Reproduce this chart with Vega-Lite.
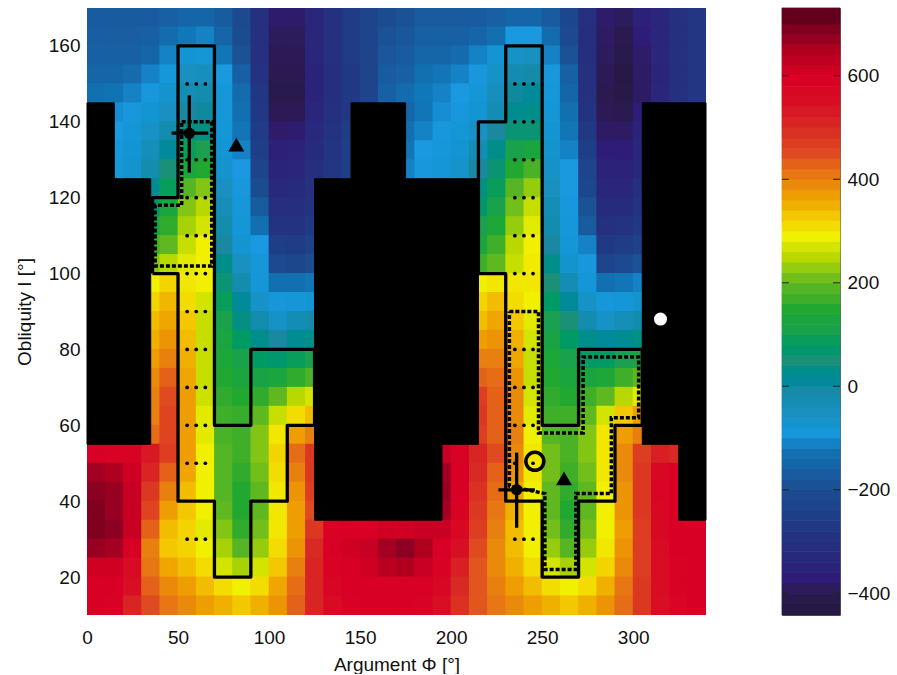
{"$schema":"https://vega.github.io/schema/vega-lite/v6.json","padding":{"left":15,"top":7,"right":0,"bottom":0},"background":"white","spacing":74,"config":{"font":"Liberation Sans","view":{"stroke":null}},
"datasets":{"cells":[
{"x":5,"y":167.5,"v":-170},{"x":15,"y":167.5,"v":-170},{"x":25,"y":167.5,"v":-170},{"x":35,"y":167.5,"v":-170},{"x":45,"y":167.5,"v":-160},{"x":55,"y":167.5,"v":-150},{"x":65,"y":167.5,"v":-150},{"x":75,"y":167.5,"v":-170},{"x":85,"y":167.5,"v":-210},{"x":95,"y":167.5,"v":-300},{"x":105,"y":167.5,"v":-380},{"x":115,"y":167.5,"v":-380},{"x":125,"y":167.5,"v":-340},{"x":135,"y":167.5,"v":-300},{"x":145,"y":167.5,"v":-260},{"x":155,"y":167.5,"v":-230},{"x":165,"y":167.5,"v":-200},{"x":175,"y":167.5,"v":-190},{"x":185,"y":167.5,"v":-170},{"x":195,"y":167.5,"v":-170},{"x":205,"y":167.5,"v":-170},{"x":215,"y":167.5,"v":-170},{"x":225,"y":167.5,"v":-160},{"x":235,"y":167.5,"v":-150},{"x":245,"y":167.5,"v":-150},{"x":255,"y":167.5,"v":-170},{"x":265,"y":167.5,"v":-220},{"x":275,"y":167.5,"v":-300},{"x":285,"y":167.5,"v":-380},{"x":295,"y":167.5,"v":-390},{"x":305,"y":167.5,"v":-360},{"x":315,"y":167.5,"v":-340},{"x":325,"y":167.5,"v":-300},{"x":335,"y":167.5,"v":-280},
{"x":5,"y":162.5,"v":-165},{"x":15,"y":162.5,"v":-165},{"x":25,"y":162.5,"v":-165},{"x":35,"y":162.5,"v":-160},{"x":45,"y":162.5,"v":-140},{"x":55,"y":162.5,"v":-115},{"x":65,"y":162.5,"v":-110},{"x":75,"y":162.5,"v":-150},{"x":85,"y":162.5,"v":-200},{"x":95,"y":162.5,"v":-300},{"x":105,"y":162.5,"v":-390},{"x":115,"y":162.5,"v":-390},{"x":125,"y":162.5,"v":-340},{"x":135,"y":162.5,"v":-300},{"x":145,"y":162.5,"v":-260},{"x":155,"y":162.5,"v":-230},{"x":165,"y":162.5,"v":-190},{"x":175,"y":162.5,"v":-180},{"x":185,"y":162.5,"v":-160},{"x":195,"y":162.5,"v":-160},{"x":205,"y":162.5,"v":-160},{"x":215,"y":162.5,"v":-150},{"x":225,"y":162.5,"v":-130},{"x":235,"y":162.5,"v":-100},{"x":245,"y":162.5,"v":-100},{"x":255,"y":162.5,"v":-140},{"x":265,"y":162.5,"v":-210},{"x":275,"y":162.5,"v":-310},{"x":285,"y":162.5,"v":-385},{"x":295,"y":162.5,"v":-400},{"x":305,"y":162.5,"v":-370},{"x":315,"y":162.5,"v":-340},{"x":325,"y":162.5,"v":-300},{"x":335,"y":162.5,"v":-280},
{"x":5,"y":157.5,"v":-160},{"x":15,"y":157.5,"v":-160},{"x":25,"y":157.5,"v":-160},{"x":35,"y":157.5,"v":-150},{"x":45,"y":157.5,"v":-110},{"x":55,"y":157.5,"v":-80},{"x":65,"y":157.5,"v":-85},{"x":75,"y":157.5,"v":-120},{"x":85,"y":157.5,"v":-190},{"x":95,"y":157.5,"v":-300},{"x":105,"y":157.5,"v":-395},{"x":115,"y":157.5,"v":-395},{"x":125,"y":157.5,"v":-340},{"x":135,"y":157.5,"v":-300},{"x":145,"y":157.5,"v":-260},{"x":155,"y":157.5,"v":-230},{"x":165,"y":157.5,"v":-180},{"x":175,"y":157.5,"v":-170},{"x":185,"y":157.5,"v":-150},{"x":195,"y":157.5,"v":-150},{"x":205,"y":157.5,"v":-140},{"x":215,"y":157.5,"v":-110},{"x":225,"y":157.5,"v":-80},{"x":235,"y":157.5,"v":-60},{"x":245,"y":157.5,"v":-50},{"x":255,"y":157.5,"v":-110},{"x":265,"y":157.5,"v":-190},{"x":275,"y":157.5,"v":-310},{"x":285,"y":157.5,"v":-390},{"x":295,"y":157.5,"v":-410},{"x":305,"y":157.5,"v":-380},{"x":315,"y":157.5,"v":-340},{"x":325,"y":157.5,"v":-300},{"x":335,"y":157.5,"v":-280},
{"x":5,"y":152.5,"v":-150},{"x":15,"y":152.5,"v":-150},{"x":25,"y":152.5,"v":-140},{"x":35,"y":152.5,"v":-110},{"x":45,"y":152.5,"v":-90},{"x":55,"y":152.5,"v":-50},{"x":65,"y":152.5,"v":-45},{"x":75,"y":152.5,"v":-100},{"x":85,"y":152.5,"v":-160},{"x":95,"y":152.5,"v":-290},{"x":105,"y":152.5,"v":-400},{"x":115,"y":152.5,"v":-400},{"x":125,"y":152.5,"v":-350},{"x":135,"y":152.5,"v":-310},{"x":145,"y":152.5,"v":-270},{"x":155,"y":152.5,"v":-230},{"x":165,"y":152.5,"v":-170},{"x":175,"y":152.5,"v":-160},{"x":185,"y":152.5,"v":-130},{"x":195,"y":152.5,"v":-120},{"x":205,"y":152.5,"v":-110},{"x":215,"y":152.5,"v":-95},{"x":225,"y":152.5,"v":-60},{"x":235,"y":152.5,"v":-25},{"x":245,"y":152.5,"v":-15},{"x":255,"y":152.5,"v":-95},{"x":265,"y":152.5,"v":-160},{"x":275,"y":152.5,"v":-300},{"x":285,"y":152.5,"v":-395},{"x":295,"y":152.5,"v":-425},{"x":305,"y":152.5,"v":-385},{"x":315,"y":152.5,"v":-345},{"x":325,"y":152.5,"v":-300},{"x":335,"y":152.5,"v":-280},
{"x":5,"y":147.5,"v":-130},{"x":15,"y":147.5,"v":-125},{"x":25,"y":147.5,"v":-110},{"x":35,"y":147.5,"v":-95},{"x":45,"y":147.5,"v":-70},{"x":55,"y":147.5,"v":-30},{"x":65,"y":147.5,"v":-20},{"x":75,"y":147.5,"v":-90},{"x":85,"y":147.5,"v":-140},{"x":95,"y":147.5,"v":-280},{"x":105,"y":147.5,"v":-405},{"x":115,"y":147.5,"v":-405},{"x":125,"y":147.5,"v":-350},{"x":135,"y":147.5,"v":-310},{"x":145,"y":147.5,"v":-270},{"x":155,"y":147.5,"v":-230},{"x":165,"y":147.5,"v":-160},{"x":175,"y":147.5,"v":-140},{"x":185,"y":147.5,"v":-115},{"x":195,"y":147.5,"v":-110},{"x":205,"y":147.5,"v":-100},{"x":215,"y":147.5,"v":-85},{"x":225,"y":147.5,"v":-45},{"x":235,"y":147.5,"v":5},{"x":245,"y":147.5,"v":10},{"x":255,"y":147.5,"v":-90},{"x":265,"y":147.5,"v":-150},{"x":275,"y":147.5,"v":-300},{"x":285,"y":147.5,"v":-400},{"x":295,"y":147.5,"v":-420},{"x":305,"y":147.5,"v":-385},{"x":315,"y":147.5,"v":-340},{"x":325,"y":147.5,"v":-300},{"x":335,"y":147.5,"v":-280},
{"x":15,"y":142.5,"v":-105},{"x":25,"y":142.5,"v":-95},{"x":35,"y":142.5,"v":-80},{"x":45,"y":142.5,"v":-50},{"x":55,"y":142.5,"v":0},{"x":65,"y":142.5,"v":5},{"x":75,"y":142.5,"v":-90},{"x":85,"y":142.5,"v":-130},{"x":95,"y":142.5,"v":-270},{"x":105,"y":142.5,"v":-395},{"x":115,"y":142.5,"v":-395},{"x":125,"y":142.5,"v":-340},{"x":135,"y":142.5,"v":-300},{"x":145,"y":142.5,"v":-270},{"x":175,"y":142.5,"v":-150},{"x":185,"y":142.5,"v":-120},{"x":195,"y":142.5,"v":-105},{"x":205,"y":142.5,"v":-95},{"x":215,"y":142.5,"v":-80},{"x":225,"y":142.5,"v":-30},{"x":235,"y":142.5,"v":25},{"x":245,"y":142.5,"v":30},{"x":255,"y":142.5,"v":-85},{"x":265,"y":142.5,"v":-130},{"x":275,"y":142.5,"v":-290},{"x":285,"y":142.5,"v":-395},{"x":295,"y":142.5,"v":-400},{"x":305,"y":142.5,"v":-370},
{"x":15,"y":137.5,"v":-100},{"x":25,"y":137.5,"v":-85},{"x":35,"y":137.5,"v":-60},{"x":45,"y":137.5,"v":-20},{"x":55,"y":137.5,"v":40},{"x":65,"y":137.5,"v":40},{"x":75,"y":137.5,"v":-85},{"x":85,"y":137.5,"v":-120},{"x":95,"y":137.5,"v":-260},{"x":105,"y":137.5,"v":-380},{"x":115,"y":137.5,"v":-375},{"x":125,"y":137.5,"v":-330},{"x":135,"y":137.5,"v":-290},{"x":145,"y":137.5,"v":-260},{"x":175,"y":137.5,"v":-130},{"x":185,"y":137.5,"v":-110},{"x":195,"y":137.5,"v":-95},{"x":205,"y":137.5,"v":-85},{"x":215,"y":137.5,"v":-60},{"x":225,"y":137.5,"v":0},{"x":235,"y":137.5,"v":60},{"x":245,"y":137.5,"v":60},{"x":255,"y":137.5,"v":-80},{"x":265,"y":137.5,"v":-120},{"x":275,"y":137.5,"v":-270},{"x":285,"y":137.5,"v":-385},{"x":295,"y":137.5,"v":-385},{"x":305,"y":137.5,"v":-350},
{"x":15,"y":132.5,"v":-95},{"x":25,"y":132.5,"v":-80},{"x":35,"y":132.5,"v":-40},{"x":45,"y":132.5,"v":10},{"x":55,"y":132.5,"v":90},{"x":65,"y":132.5,"v":100},{"x":75,"y":132.5,"v":-80},{"x":85,"y":132.5,"v":-110},{"x":95,"y":132.5,"v":-250},{"x":105,"y":132.5,"v":-360},{"x":115,"y":132.5,"v":-355},{"x":125,"y":132.5,"v":-320},{"x":135,"y":132.5,"v":-285},{"x":145,"y":132.5,"v":-255},{"x":175,"y":132.5,"v":-120},{"x":185,"y":132.5,"v":-100},{"x":195,"y":132.5,"v":-90},{"x":205,"y":132.5,"v":-75},{"x":215,"y":132.5,"v":-30},{"x":225,"y":132.5,"v":30},{"x":235,"y":132.5,"v":110},{"x":245,"y":132.5,"v":130},{"x":255,"y":132.5,"v":-70},{"x":265,"y":132.5,"v":-110},{"x":275,"y":132.5,"v":-250},{"x":285,"y":132.5,"v":-370},{"x":295,"y":132.5,"v":-370},{"x":305,"y":132.5,"v":-340},
{"x":15,"y":127.5,"v":-90},{"x":25,"y":127.5,"v":-70},{"x":35,"y":127.5,"v":-20},{"x":45,"y":127.5,"v":50},{"x":55,"y":127.5,"v":130},{"x":65,"y":127.5,"v":150},{"x":75,"y":127.5,"v":-70},{"x":85,"y":127.5,"v":-100},{"x":95,"y":127.5,"v":-230},{"x":105,"y":127.5,"v":-345},{"x":115,"y":127.5,"v":-340},{"x":125,"y":127.5,"v":-310},{"x":135,"y":127.5,"v":-280},{"x":145,"y":127.5,"v":-250},{"x":175,"y":127.5,"v":-110},{"x":185,"y":127.5,"v":-95},{"x":195,"y":127.5,"v":-85},{"x":205,"y":127.5,"v":-65},{"x":215,"y":127.5,"v":0},{"x":225,"y":127.5,"v":60},{"x":235,"y":127.5,"v":150},{"x":245,"y":127.5,"v":180},{"x":255,"y":127.5,"v":-60},{"x":265,"y":127.5,"v":-100},{"x":275,"y":127.5,"v":-230},{"x":285,"y":127.5,"v":-355},{"x":295,"y":127.5,"v":-355},{"x":305,"y":127.5,"v":-330},
{"x":35,"y":122.5,"v":20},{"x":45,"y":122.5,"v":90},{"x":55,"y":122.5,"v":190},{"x":65,"y":122.5,"v":220},{"x":75,"y":122.5,"v":-50},{"x":85,"y":122.5,"v":-95},{"x":95,"y":122.5,"v":-200},{"x":105,"y":122.5,"v":-330},{"x":115,"y":122.5,"v":-325},{"x":125,"y":122.5,"v":-300},{"x":215,"y":122.5,"v":40},{"x":225,"y":122.5,"v":90},{"x":235,"y":122.5,"v":190},{"x":245,"y":122.5,"v":230},{"x":255,"y":122.5,"v":-50},{"x":265,"y":122.5,"v":-100},{"x":275,"y":122.5,"v":-220},{"x":285,"y":122.5,"v":-340},{"x":295,"y":122.5,"v":-340},{"x":305,"y":122.5,"v":-310},
{"x":35,"y":117.5,"v":70},{"x":45,"y":117.5,"v":130},{"x":55,"y":117.5,"v":220},{"x":65,"y":117.5,"v":250},{"x":75,"y":117.5,"v":-40},{"x":85,"y":117.5,"v":-90},{"x":95,"y":117.5,"v":-170},{"x":105,"y":117.5,"v":-310},{"x":115,"y":117.5,"v":-310},{"x":125,"y":117.5,"v":-290},{"x":215,"y":117.5,"v":70},{"x":225,"y":117.5,"v":110},{"x":235,"y":117.5,"v":210},{"x":245,"y":117.5,"v":260},{"x":255,"y":117.5,"v":-35},{"x":265,"y":117.5,"v":-95},{"x":275,"y":117.5,"v":-190},{"x":285,"y":117.5,"v":-320},{"x":295,"y":117.5,"v":-320},{"x":305,"y":117.5,"v":-290},
{"x":35,"y":112.5,"v":120},{"x":45,"y":112.5,"v":160},{"x":55,"y":112.5,"v":240},{"x":65,"y":112.5,"v":270},{"x":75,"y":112.5,"v":-20},{"x":85,"y":112.5,"v":-85},{"x":95,"y":112.5,"v":-130},{"x":105,"y":112.5,"v":-290},{"x":115,"y":112.5,"v":-290},{"x":125,"y":112.5,"v":-270},{"x":215,"y":112.5,"v":100},{"x":225,"y":112.5,"v":140},{"x":235,"y":112.5,"v":230},{"x":245,"y":112.5,"v":280},{"x":255,"y":112.5,"v":-20},{"x":265,"y":112.5,"v":-90},{"x":275,"y":112.5,"v":-170},{"x":285,"y":112.5,"v":-300},{"x":295,"y":112.5,"v":-290},{"x":305,"y":112.5,"v":-270},
{"x":35,"y":107.5,"v":170},{"x":45,"y":107.5,"v":200},{"x":55,"y":107.5,"v":260},{"x":65,"y":107.5,"v":290},{"x":75,"y":107.5,"v":0},{"x":85,"y":107.5,"v":-75},{"x":95,"y":107.5,"v":-100},{"x":105,"y":107.5,"v":-250},{"x":115,"y":107.5,"v":-260},{"x":125,"y":107.5,"v":-240},{"x":215,"y":107.5,"v":130},{"x":225,"y":107.5,"v":170},{"x":235,"y":107.5,"v":250},{"x":245,"y":107.5,"v":290},{"x":255,"y":107.5,"v":0},{"x":265,"y":107.5,"v":-85},{"x":275,"y":107.5,"v":-110},{"x":285,"y":107.5,"v":-270},{"x":295,"y":107.5,"v":-260},{"x":305,"y":107.5,"v":-240},
{"x":35,"y":102.5,"v":220},{"x":45,"y":102.5,"v":250},{"x":55,"y":102.5,"v":280},{"x":65,"y":102.5,"v":290},{"x":75,"y":102.5,"v":30},{"x":85,"y":102.5,"v":-50},{"x":95,"y":102.5,"v":-90},{"x":105,"y":102.5,"v":-210},{"x":115,"y":102.5,"v":-220},{"x":125,"y":102.5,"v":-200},{"x":215,"y":102.5,"v":170},{"x":225,"y":102.5,"v":200},{"x":235,"y":102.5,"v":260},{"x":245,"y":102.5,"v":295},{"x":255,"y":102.5,"v":30},{"x":265,"y":102.5,"v":-70},{"x":275,"y":102.5,"v":-95},{"x":285,"y":102.5,"v":-230},{"x":295,"y":102.5,"v":-210},{"x":305,"y":102.5,"v":-190},
{"x":35,"y":97.5,"v":290},{"x":45,"y":97.5,"v":320},{"x":55,"y":97.5,"v":300},{"x":65,"y":97.5,"v":290},{"x":75,"y":97.5,"v":60},{"x":85,"y":97.5,"v":-20},{"x":95,"y":97.5,"v":-85},{"x":105,"y":97.5,"v":-130},{"x":115,"y":97.5,"v":-130},{"x":125,"y":97.5,"v":-120},{"x":215,"y":97.5,"v":290},{"x":225,"y":97.5,"v":300},{"x":235,"y":97.5,"v":300},{"x":245,"y":97.5,"v":300},{"x":255,"y":97.5,"v":50},{"x":265,"y":97.5,"v":-30},{"x":275,"y":97.5,"v":-85},{"x":285,"y":97.5,"v":-130},{"x":295,"y":97.5,"v":-120},{"x":305,"y":97.5,"v":-110},
{"x":35,"y":92.5,"v":320},{"x":45,"y":92.5,"v":345},{"x":55,"y":92.5,"v":310},{"x":65,"y":92.5,"v":270},{"x":75,"y":92.5,"v":90},{"x":85,"y":92.5,"v":10},{"x":95,"y":92.5,"v":-60},{"x":105,"y":92.5,"v":-90},{"x":115,"y":92.5,"v":-85},{"x":125,"y":92.5,"v":-80},{"x":215,"y":92.5,"v":320},{"x":225,"y":92.5,"v":340},{"x":235,"y":92.5,"v":310},{"x":245,"y":92.5,"v":290},{"x":255,"y":92.5,"v":80},{"x":265,"y":92.5,"v":10},{"x":275,"y":92.5,"v":-60},{"x":285,"y":92.5,"v":-90},{"x":295,"y":92.5,"v":-85},{"x":305,"y":92.5,"v":-70},
{"x":35,"y":87.5,"v":340},{"x":45,"y":87.5,"v":360},{"x":55,"y":87.5,"v":330},{"x":65,"y":87.5,"v":260},{"x":75,"y":87.5,"v":110},{"x":85,"y":87.5,"v":40},{"x":95,"y":87.5,"v":-20},{"x":105,"y":87.5,"v":-60},{"x":115,"y":87.5,"v":-30},{"x":125,"y":87.5,"v":-20},{"x":215,"y":87.5,"v":340},{"x":225,"y":87.5,"v":360},{"x":235,"y":87.5,"v":330},{"x":245,"y":87.5,"v":280},{"x":255,"y":87.5,"v":100},{"x":265,"y":87.5,"v":50},{"x":275,"y":87.5,"v":-20},{"x":285,"y":87.5,"v":-60},{"x":295,"y":87.5,"v":-40},{"x":305,"y":87.5,"v":-20},
{"x":35,"y":82.5,"v":350},{"x":45,"y":82.5,"v":380},{"x":55,"y":82.5,"v":340},{"x":65,"y":82.5,"v":260},{"x":75,"y":82.5,"v":130},{"x":85,"y":82.5,"v":80},{"x":95,"y":82.5,"v":30},{"x":105,"y":82.5,"v":0},{"x":115,"y":82.5,"v":20},{"x":125,"y":82.5,"v":30},{"x":215,"y":82.5,"v":370},{"x":225,"y":82.5,"v":380},{"x":235,"y":82.5,"v":350},{"x":245,"y":82.5,"v":270},{"x":255,"y":82.5,"v":120},{"x":265,"y":82.5,"v":80},{"x":275,"y":82.5,"v":30},{"x":285,"y":82.5,"v":10},{"x":295,"y":82.5,"v":20},{"x":305,"y":82.5,"v":40},
{"x":35,"y":77.5,"v":370},{"x":45,"y":77.5,"v":400},{"x":55,"y":77.5,"v":350},{"x":65,"y":77.5,"v":260},{"x":75,"y":77.5,"v":140},{"x":85,"y":77.5,"v":110},{"x":95,"y":77.5,"v":80},{"x":105,"y":77.5,"v":70},{"x":115,"y":77.5,"v":90},{"x":125,"y":77.5,"v":100},{"x":215,"y":77.5,"v":400},{"x":225,"y":77.5,"v":400},{"x":235,"y":77.5,"v":360},{"x":245,"y":77.5,"v":260},{"x":255,"y":77.5,"v":140},{"x":265,"y":77.5,"v":110},{"x":275,"y":77.5,"v":80},{"x":285,"y":77.5,"v":80},{"x":295,"y":77.5,"v":100},{"x":305,"y":77.5,"v":120},
{"x":35,"y":72.5,"v":390},{"x":45,"y":72.5,"v":430},{"x":55,"y":72.5,"v":360},{"x":65,"y":72.5,"v":260},{"x":75,"y":72.5,"v":150},{"x":85,"y":72.5,"v":130},{"x":95,"y":72.5,"v":120},{"x":105,"y":72.5,"v":130},{"x":115,"y":72.5,"v":160},{"x":125,"y":72.5,"v":180},{"x":215,"y":72.5,"v":430},{"x":225,"y":72.5,"v":420},{"x":235,"y":72.5,"v":380},{"x":245,"y":72.5,"v":260},{"x":255,"y":72.5,"v":150},{"x":265,"y":72.5,"v":130},{"x":275,"y":72.5,"v":130},{"x":285,"y":72.5,"v":140},{"x":295,"y":72.5,"v":170},{"x":305,"y":72.5,"v":200},
{"x":35,"y":67.5,"v":400},{"x":45,"y":67.5,"v":450},{"x":55,"y":67.5,"v":370},{"x":65,"y":67.5,"v":265},{"x":75,"y":67.5,"v":160},{"x":85,"y":67.5,"v":150},{"x":95,"y":67.5,"v":160},{"x":105,"y":67.5,"v":200},{"x":115,"y":67.5,"v":250},{"x":125,"y":67.5,"v":270},{"x":215,"y":67.5,"v":470},{"x":225,"y":67.5,"v":430},{"x":235,"y":67.5,"v":390},{"x":245,"y":67.5,"v":270},{"x":255,"y":67.5,"v":160},{"x":265,"y":67.5,"v":150},{"x":275,"y":67.5,"v":170},{"x":285,"y":67.5,"v":200},{"x":295,"y":67.5,"v":250},{"x":305,"y":67.5,"v":280},
{"x":35,"y":62.5,"v":400},{"x":45,"y":62.5,"v":460},{"x":55,"y":62.5,"v":370},{"x":65,"y":62.5,"v":280},{"x":75,"y":62.5,"v":170},{"x":85,"y":62.5,"v":165},{"x":95,"y":62.5,"v":200},{"x":105,"y":62.5,"v":260},{"x":115,"y":62.5,"v":310},{"x":125,"y":62.5,"v":340},{"x":215,"y":62.5,"v":480},{"x":225,"y":62.5,"v":430},{"x":235,"y":62.5,"v":390},{"x":245,"y":62.5,"v":280},{"x":255,"y":62.5,"v":170},{"x":265,"y":62.5,"v":170},{"x":275,"y":62.5,"v":200},{"x":285,"y":62.5,"v":270},{"x":295,"y":62.5,"v":330},{"x":305,"y":62.5,"v":370},
{"x":35,"y":57.5,"v":420},{"x":45,"y":57.5,"v":460},{"x":55,"y":57.5,"v":370},{"x":65,"y":57.5,"v":280},{"x":75,"y":57.5,"v":180},{"x":85,"y":57.5,"v":170},{"x":95,"y":57.5,"v":220},{"x":105,"y":57.5,"v":300},{"x":115,"y":57.5,"v":370},{"x":125,"y":57.5,"v":400},{"x":215,"y":57.5,"v":470},{"x":225,"y":57.5,"v":430},{"x":235,"y":57.5,"v":400},{"x":245,"y":57.5,"v":290},{"x":255,"y":57.5,"v":190},{"x":265,"y":57.5,"v":180},{"x":275,"y":57.5,"v":220},{"x":285,"y":57.5,"v":300},{"x":295,"y":57.5,"v":370},{"x":305,"y":57.5,"v":400},
{"x":5,"y":52.5,"v":600},{"x":15,"y":52.5,"v":590},{"x":25,"y":52.5,"v":590},{"x":35,"y":52.5,"v":530},{"x":45,"y":52.5,"v":470},{"x":55,"y":52.5,"v":370},{"x":65,"y":52.5,"v":290},{"x":75,"y":52.5,"v":190},{"x":85,"y":52.5,"v":170},{"x":95,"y":52.5,"v":220},{"x":105,"y":52.5,"v":320},{"x":115,"y":52.5,"v":420},{"x":125,"y":52.5,"v":480},{"x":195,"y":52.5,"v":620},{"x":205,"y":52.5,"v":590},{"x":215,"y":52.5,"v":510},{"x":225,"y":52.5,"v":450},{"x":235,"y":52.5,"v":390},{"x":245,"y":52.5,"v":300},{"x":255,"y":52.5,"v":210},{"x":265,"y":52.5,"v":180},{"x":275,"y":52.5,"v":220},{"x":285,"y":52.5,"v":300},{"x":295,"y":52.5,"v":390},{"x":305,"y":52.5,"v":470},{"x":315,"y":52.5,"v":520},{"x":325,"y":52.5,"v":500},
{"x":5,"y":47.5,"v":660},{"x":15,"y":47.5,"v":650},{"x":25,"y":47.5,"v":610},{"x":35,"y":47.5,"v":510},{"x":45,"y":47.5,"v":430},{"x":55,"y":47.5,"v":360},{"x":65,"y":47.5,"v":290},{"x":75,"y":47.5,"v":190},{"x":85,"y":47.5,"v":160},{"x":95,"y":47.5,"v":210},{"x":105,"y":47.5,"v":310},{"x":115,"y":47.5,"v":400},{"x":125,"y":47.5,"v":480},{"x":195,"y":47.5,"v":660},{"x":205,"y":47.5,"v":600},{"x":215,"y":47.5,"v":500},{"x":225,"y":47.5,"v":430},{"x":235,"y":47.5,"v":380},{"x":245,"y":47.5,"v":300},{"x":255,"y":47.5,"v":210},{"x":265,"y":47.5,"v":170},{"x":275,"y":47.5,"v":210},{"x":285,"y":47.5,"v":300},{"x":295,"y":47.5,"v":390},{"x":305,"y":47.5,"v":480},{"x":315,"y":47.5,"v":570},{"x":325,"y":47.5,"v":590},
{"x":5,"y":42.5,"v":680},{"x":15,"y":42.5,"v":670},{"x":25,"y":42.5,"v":620},{"x":35,"y":42.5,"v":480},{"x":45,"y":42.5,"v":400},{"x":55,"y":42.5,"v":340},{"x":65,"y":42.5,"v":290},{"x":75,"y":42.5,"v":190},{"x":85,"y":42.5,"v":150},{"x":95,"y":42.5,"v":200},{"x":105,"y":42.5,"v":300},{"x":115,"y":42.5,"v":380},{"x":125,"y":42.5,"v":470},{"x":195,"y":42.5,"v":670},{"x":205,"y":42.5,"v":600},{"x":215,"y":42.5,"v":490},{"x":225,"y":42.5,"v":420},{"x":235,"y":42.5,"v":360},{"x":245,"y":42.5,"v":290},{"x":255,"y":42.5,"v":200},{"x":265,"y":42.5,"v":160},{"x":275,"y":42.5,"v":200},{"x":285,"y":42.5,"v":290},{"x":295,"y":42.5,"v":380},{"x":305,"y":42.5,"v":480},{"x":315,"y":42.5,"v":580},{"x":325,"y":42.5,"v":600},
{"x":5,"y":37.5,"v":690},{"x":15,"y":37.5,"v":670},{"x":25,"y":37.5,"v":620},{"x":35,"y":37.5,"v":460},{"x":45,"y":37.5,"v":370},{"x":55,"y":37.5,"v":330},{"x":65,"y":37.5,"v":290},{"x":75,"y":37.5,"v":200},{"x":85,"y":37.5,"v":150},{"x":95,"y":37.5,"v":200},{"x":105,"y":37.5,"v":300},{"x":115,"y":37.5,"v":370},{"x":125,"y":37.5,"v":450},{"x":195,"y":37.5,"v":660},{"x":205,"y":37.5,"v":590},{"x":215,"y":37.5,"v":480},{"x":225,"y":37.5,"v":410},{"x":235,"y":37.5,"v":350},{"x":245,"y":37.5,"v":290},{"x":255,"y":37.5,"v":200},{"x":265,"y":37.5,"v":150},{"x":275,"y":37.5,"v":200},{"x":285,"y":37.5,"v":290},{"x":295,"y":37.5,"v":380},{"x":305,"y":37.5,"v":480},{"x":315,"y":37.5,"v":570},{"x":325,"y":37.5,"v":600},
{"x":5,"y":32.5,"v":690},{"x":15,"y":32.5,"v":680},{"x":25,"y":32.5,"v":620},{"x":35,"y":32.5,"v":430},{"x":45,"y":32.5,"v":340},{"x":55,"y":32.5,"v":320},{"x":65,"y":32.5,"v":280},{"x":75,"y":32.5,"v":220},{"x":85,"y":32.5,"v":160},{"x":95,"y":32.5,"v":210},{"x":105,"y":32.5,"v":300},{"x":115,"y":32.5,"v":370},{"x":125,"y":32.5,"v":480},{"x":135,"y":32.5,"v":590},{"x":145,"y":32.5,"v":600},{"x":155,"y":32.5,"v":600},{"x":165,"y":32.5,"v":610},{"x":175,"y":32.5,"v":610},{"x":185,"y":32.5,"v":620},{"x":195,"y":32.5,"v":620},{"x":205,"y":32.5,"v":570},{"x":215,"y":32.5,"v":470},{"x":225,"y":32.5,"v":400},{"x":235,"y":32.5,"v":340},{"x":245,"y":32.5,"v":290},{"x":255,"y":32.5,"v":210},{"x":265,"y":32.5,"v":160},{"x":275,"y":32.5,"v":210},{"x":285,"y":32.5,"v":290},{"x":295,"y":32.5,"v":370},{"x":305,"y":32.5,"v":470},{"x":315,"y":32.5,"v":570},{"x":325,"y":32.5,"v":600},{"x":335,"y":32.5,"v":600},
{"x":5,"y":27.5,"v":670},{"x":15,"y":27.5,"v":660},{"x":25,"y":27.5,"v":600},{"x":35,"y":27.5,"v":400},{"x":45,"y":27.5,"v":330},{"x":55,"y":27.5,"v":320},{"x":65,"y":27.5,"v":290},{"x":75,"y":27.5,"v":240},{"x":85,"y":27.5,"v":190},{"x":95,"y":27.5,"v":230},{"x":105,"y":27.5,"v":310},{"x":115,"y":27.5,"v":380},{"x":125,"y":27.5,"v":500},{"x":135,"y":27.5,"v":600},{"x":145,"y":27.5,"v":610},{"x":155,"y":27.5,"v":620},{"x":165,"y":27.5,"v":660},{"x":175,"y":27.5,"v":680},{"x":185,"y":27.5,"v":650},{"x":195,"y":27.5,"v":600},{"x":205,"y":27.5,"v":540},{"x":215,"y":27.5,"v":450},{"x":225,"y":27.5,"v":390},{"x":235,"y":27.5,"v":340},{"x":245,"y":27.5,"v":290},{"x":255,"y":27.5,"v":230},{"x":265,"y":27.5,"v":190},{"x":275,"y":27.5,"v":230},{"x":285,"y":27.5,"v":300},{"x":295,"y":27.5,"v":380},{"x":305,"y":27.5,"v":470},{"x":315,"y":27.5,"v":560},{"x":325,"y":27.5,"v":600},{"x":335,"y":27.5,"v":600},
{"x":5,"y":22.5,"v":610},{"x":15,"y":22.5,"v":610},{"x":25,"y":22.5,"v":560},{"x":35,"y":22.5,"v":410},{"x":45,"y":22.5,"v":360},{"x":55,"y":22.5,"v":340},{"x":65,"y":22.5,"v":310},{"x":75,"y":22.5,"v":270},{"x":85,"y":22.5,"v":240},{"x":95,"y":22.5,"v":270},{"x":105,"y":22.5,"v":330},{"x":115,"y":22.5,"v":400},{"x":125,"y":22.5,"v":510},{"x":135,"y":22.5,"v":590},{"x":145,"y":22.5,"v":600},{"x":155,"y":22.5,"v":610},{"x":165,"y":22.5,"v":640},{"x":175,"y":22.5,"v":650},{"x":185,"y":22.5,"v":620},{"x":195,"y":22.5,"v":590},{"x":205,"y":22.5,"v":520},{"x":215,"y":22.5,"v":440},{"x":225,"y":22.5,"v":390},{"x":235,"y":22.5,"v":350},{"x":245,"y":22.5,"v":310},{"x":255,"y":22.5,"v":270},{"x":265,"y":22.5,"v":240},{"x":275,"y":22.5,"v":270},{"x":285,"y":22.5,"v":320},{"x":295,"y":22.5,"v":390},{"x":305,"y":22.5,"v":470},{"x":315,"y":22.5,"v":550},{"x":325,"y":22.5,"v":590},{"x":335,"y":22.5,"v":600},
{"x":5,"y":17.5,"v":600},{"x":15,"y":17.5,"v":600},{"x":25,"y":17.5,"v":540},{"x":35,"y":17.5,"v":430},{"x":45,"y":17.5,"v":390},{"x":55,"y":17.5,"v":370},{"x":65,"y":17.5,"v":340},{"x":75,"y":17.5,"v":310},{"x":85,"y":17.5,"v":290},{"x":95,"y":17.5,"v":310},{"x":105,"y":17.5,"v":360},{"x":115,"y":17.5,"v":420},{"x":125,"y":17.5,"v":510},{"x":135,"y":17.5,"v":580},{"x":145,"y":17.5,"v":600},{"x":155,"y":17.5,"v":600},{"x":165,"y":17.5,"v":600},{"x":175,"y":17.5,"v":600},{"x":185,"y":17.5,"v":600},{"x":195,"y":17.5,"v":570},{"x":205,"y":17.5,"v":500},{"x":215,"y":17.5,"v":440},{"x":225,"y":17.5,"v":400},{"x":235,"y":17.5,"v":370},{"x":245,"y":17.5,"v":340},{"x":255,"y":17.5,"v":310},{"x":265,"y":17.5,"v":290},{"x":275,"y":17.5,"v":310},{"x":285,"y":17.5,"v":350},{"x":295,"y":17.5,"v":410},{"x":305,"y":17.5,"v":480},{"x":315,"y":17.5,"v":550},{"x":325,"y":17.5,"v":590},{"x":335,"y":17.5,"v":600},
{"x":5,"y":12.5,"v":600},{"x":15,"y":12.5,"v":590},{"x":25,"y":12.5,"v":510},{"x":35,"y":12.5,"v":450},{"x":45,"y":12.5,"v":410},{"x":55,"y":12.5,"v":390},{"x":65,"y":12.5,"v":370},{"x":75,"y":12.5,"v":350},{"x":85,"y":12.5,"v":330},{"x":95,"y":12.5,"v":350},{"x":105,"y":12.5,"v":380},{"x":115,"y":12.5,"v":430},{"x":125,"y":12.5,"v":510},{"x":135,"y":12.5,"v":560},{"x":145,"y":12.5,"v":590},{"x":155,"y":12.5,"v":600},{"x":165,"y":12.5,"v":600},{"x":175,"y":12.5,"v":600},{"x":185,"y":12.5,"v":590},{"x":195,"y":12.5,"v":540},{"x":205,"y":12.5,"v":490},{"x":215,"y":12.5,"v":440},{"x":225,"y":12.5,"v":410},{"x":235,"y":12.5,"v":390},{"x":245,"y":12.5,"v":370},{"x":255,"y":12.5,"v":350},{"x":265,"y":12.5,"v":330},{"x":275,"y":12.5,"v":350},{"x":285,"y":12.5,"v":380},{"x":295,"y":12.5,"v":420},{"x":305,"y":12.5,"v":480},{"x":315,"y":12.5,"v":540},{"x":325,"y":12.5,"v":580},{"x":335,"y":12.5,"v":600}
],
"bands":[{"lo":-442,"hi":-420,"v":-431},{"lo":-420,"hi":-400,"v":-410},{"lo":-400,"hi":-380,"v":-390},{"lo":-380,"hi":-360,"v":-370},{"lo":-360,"hi":-340,"v":-350},{"lo":-340,"hi":-320,"v":-330},{"lo":-320,"hi":-300,"v":-310},{"lo":-300,"hi":-280,"v":-290},{"lo":-280,"hi":-260,"v":-270},{"lo":-260,"hi":-240,"v":-250},{"lo":-240,"hi":-220,"v":-230},{"lo":-220,"hi":-200,"v":-210},{"lo":-200,"hi":-180,"v":-190},{"lo":-180,"hi":-160,"v":-170},{"lo":-160,"hi":-140,"v":-150},{"lo":-140,"hi":-120,"v":-130},{"lo":-120,"hi":-100,"v":-110},{"lo":-100,"hi":-80,"v":-90},{"lo":-80,"hi":-60,"v":-70},{"lo":-60,"hi":-40,"v":-50},{"lo":-40,"hi":-20,"v":-30},{"lo":-20,"hi":0,"v":-10},{"lo":0,"hi":20,"v":10},{"lo":20,"hi":40,"v":30},{"lo":40,"hi":60,"v":50},{"lo":60,"hi":80,"v":70},{"lo":80,"hi":100,"v":90},{"lo":100,"hi":120,"v":110},{"lo":120,"hi":140,"v":130},{"lo":140,"hi":160,"v":150},{"lo":160,"hi":180,"v":170},{"lo":180,"hi":200,"v":190},{"lo":200,"hi":220,"v":210},{"lo":220,"hi":240,"v":230},{"lo":240,"hi":260,"v":250},{"lo":260,"hi":280,"v":270},{"lo":280,"hi":300,"v":290},{"lo":300,"hi":320,"v":310},{"lo":320,"hi":340,"v":330},{"lo":340,"hi":360,"v":350},{"lo":360,"hi":380,"v":370},{"lo":380,"hi":400,"v":390},{"lo":400,"hi":420,"v":410},{"lo":420,"hi":440,"v":430},{"lo":440,"hi":460,"v":450},{"lo":460,"hi":480,"v":470},{"lo":480,"hi":500,"v":490},{"lo":500,"hi":520,"v":510},{"lo":520,"hi":540,"v":530},{"lo":540,"hi":560,"v":550},{"lo":560,"hi":580,"v":570},{"lo":580,"hi":600,"v":590},{"lo":600,"hi":620,"v":610},{"lo":620,"hi":640,"v":630},{"lo":640,"hi":660,"v":650},{"lo":660,"hi":680,"v":670},{"lo":680,"hi":700,"v":690},{"lo":700,"hi":731,"v":715}]},
"hconcat":[
{"width":619,"height":607,
"layer":[
{"data":{"name":"cells"},"mark":{"type":"rect","width":19,"height":20,"clip":true},"encoding":{"x":{"field":"x","type":"quantitative","scale":{"domain":[0,340],"nice":false,"zero":false},"axis":{"values":[0,50,100,150,200,250,300],"title":"Argument Φ [°]","grid":false,"domain":false,"ticks":false,"labelFontSize":19,"labelColor":"#111","labelPadding":13,"titleFontSize":19,"titleFontWeight":"normal","titleColor":"#111","titlePadding":8,"labelFlush":false}},"y":{"field":"y","type":"quantitative","scale":{"domain":[10,170],"nice":false,"zero":false},"axis":{"values":[20,40,60,80,100,120,140,160],"title":"Obliquity I [°]","grid":false,"domain":false,"ticks":false,"labelFontSize":19,"labelColor":"#111","labelPadding":7,"titleFontSize":19,"titleFontWeight":"normal","titleColor":"#111","titlePadding":14}},"color":{"field":"v","type":"quantitative","legend":null,"scale":{"domain":[-442,-400,-370,-300,-200,-115,-100,-50,0,50,100,150,200,250,290,320,350,400,450,500,540,600,650,690,731],"range":["#241840","#2a1a50","#2e1d78","#25307f","#1c4c90","#1078b8","#1a98e0","#1a90c0","#1a88a0","#1a9078","#1aa050","#20a830","#60b820","#b8d800","#f0f000","#f4d400","#f0b000","#e88010","#e04a20","#d82a24","#d80f24","#d80024","#b00020","#800020","#500018"]}}}},
{"data":{"values":[{"a":0,"b":15,"c":55,"d":145},{"a":15,"b":35,"c":55,"d":125},{"a":125,"b":145,"c":35,"d":125},{"a":145,"b":175,"c":35,"d":145},{"a":175,"b":195,"c":35,"d":125},{"a":195,"b":215,"c":55,"d":125},{"a":305,"b":325,"c":55,"d":145},{"a":325,"b":340,"c":35,"d":145}]},"mark":{"type":"rect","color":"#000","stroke":"#000","strokeWidth":1},"encoding":{"x":{"field":"a","type":"quantitative"},"x2":{"field":"b"},"y":{"field":"c","type":"quantitative"},"y2":{"field":"d"}}},
{"data":{"values":[{"i":"a","o":1,"x":36,"y":100},{"i":"a","o":2,"x":50,"y":100},{"i":"a","o":3,"x":50,"y":40},{"i":"a","o":4,"x":70,"y":40},{"i":"a","o":5,"x":70,"y":20},{"i":"a","o":6,"x":90,"y":20},{"i":"a","o":7,"x":90,"y":40},{"i":"a","o":8,"x":110,"y":40},{"i":"a","o":9,"x":110,"y":60},{"i":"a","o":10,"x":125,"y":60},{"i":"a","o":11,"x":125,"y":80},{"i":"a","o":12,"x":90,"y":80},{"i":"a","o":13,"x":90,"y":60},{"i":"a","o":14,"x":70,"y":60},{"i":"a","o":15,"x":70,"y":160},{"i":"a","o":16,"x":50,"y":160},{"i":"a","o":17,"x":50,"y":120},{"i":"a","o":18,"x":36,"y":120},{"i":"a","o":19,"x":36,"y":100},{"i":"b","o":1,"x":215,"y":100},{"i":"b","o":2,"x":230,"y":100},{"i":"b","o":3,"x":230,"y":40},{"i":"b","o":4,"x":250,"y":40},{"i":"b","o":5,"x":250,"y":20},{"i":"b","o":6,"x":270,"y":20},{"i":"b","o":7,"x":270,"y":40},{"i":"b","o":8,"x":290,"y":40},{"i":"b","o":9,"x":290,"y":60},{"i":"b","o":10,"x":305,"y":60},{"i":"b","o":11,"x":305,"y":80},{"i":"b","o":12,"x":270,"y":80},{"i":"b","o":13,"x":270,"y":60},{"i":"b","o":14,"x":250,"y":60},{"i":"b","o":15,"x":250,"y":160},{"i":"b","o":16,"x":230,"y":160},{"i":"b","o":17,"x":230,"y":140},{"i":"b","o":18,"x":215,"y":140},{"i":"b","o":19,"x":215,"y":100}]},"mark":{"type":"line","color":"#000","strokeWidth":3.3,"strokeJoin":"round"},"encoding":{"x":{"field":"x","type":"quantitative"},"y":{"field":"y","type":"quantitative"},"detail":{"field":"i"},"order":{"field":"o"}}},
{"data":{"values":[{"i":"a","o":1,"x":52,"y":140},{"i":"a","o":2,"x":68.5,"y":140},{"i":"a","o":3,"x":68.5,"y":102},{"i":"a","o":4,"x":37.5,"y":102},{"i":"a","o":5,"x":37.5,"y":118},{"i":"a","o":6,"x":52,"y":118},{"i":"a","o":7,"x":52,"y":140},{"i":"b","o":1,"x":232,"y":90},{"i":"b","o":2,"x":248,"y":90},{"i":"b","o":3,"x":248,"y":58},{"i":"b","o":4,"x":272.5,"y":58},{"i":"b","o":5,"x":272.5,"y":78},{"i":"b","o":6,"x":303,"y":78},{"i":"b","o":7,"x":303,"y":62},{"i":"b","o":8,"x":288,"y":62},{"i":"b","o":9,"x":288,"y":42},{"i":"b","o":10,"x":268.5,"y":42},{"i":"b","o":11,"x":268.5,"y":22},{"i":"b","o":12,"x":251.5,"y":22},{"i":"b","o":13,"x":251.5,"y":42},{"i":"b","o":14,"x":232,"y":44},{"i":"b","o":15,"x":232,"y":90}]},"mark":{"type":"line","color":"#000","strokeWidth":3.5,"strokeDash":[4,2]},"encoding":{"x":{"field":"x","type":"quantitative"},"y":{"field":"y","type":"quantitative"},"detail":{"field":"i"},"order":{"field":"o"}}},
{"data":{"values":[{"x":55,"y":150},{"x":60,"y":150},{"x":65,"y":150},{"x":55,"y":130},{"x":60,"y":130},{"x":65,"y":130},{"x":55,"y":120},{"x":60,"y":120},{"x":65,"y":120},{"x":55,"y":110},{"x":60,"y":110},{"x":65,"y":110},{"x":55,"y":100},{"x":60,"y":100},{"x":65,"y":100},{"x":55,"y":90},{"x":60,"y":90},{"x":65,"y":90},{"x":55,"y":80},{"x":60,"y":80},{"x":65,"y":80},{"x":55,"y":70},{"x":60,"y":70},{"x":65,"y":70},{"x":55,"y":60},{"x":60,"y":60},{"x":65,"y":60},{"x":55,"y":50},{"x":60,"y":50},{"x":65,"y":50},{"x":55,"y":30},{"x":60,"y":30},{"x":65,"y":30},{"x":235,"y":150},{"x":240,"y":150},{"x":245,"y":150},{"x":235,"y":140},{"x":240,"y":140},{"x":245,"y":140},{"x":235,"y":130},{"x":240,"y":130},{"x":245,"y":130},{"x":235,"y":120},{"x":240,"y":120},{"x":245,"y":120},{"x":235,"y":110},{"x":240,"y":110},{"x":245,"y":110},{"x":235,"y":100},{"x":240,"y":100},{"x":245,"y":100},{"x":235,"y":80},{"x":240,"y":80},{"x":245,"y":80},{"x":235,"y":70},{"x":240,"y":70},{"x":245,"y":70},{"x":235,"y":60},{"x":240,"y":60},{"x":245,"y":60},{"x":235,"y":50},{"x":245,"y":50},{"x":235,"y":30},{"x":240,"y":30},{"x":245,"y":30}]},"mark":{"type":"circle","color":"#000","size":14,"opacity":1},"encoding":{"x":{"field":"x","type":"quantitative"},"y":{"field":"y","type":"quantitative"}}},
{"data":{"values":[{"a":56.2,"b":56.2,"c":126.6,"d":147},{"a":46.5,"b":66.6,"c":137,"d":137},{"a":236,"b":236,"c":33,"d":52.8},{"a":226,"b":246,"c":43,"d":43}]},"mark":{"type":"rule","color":"#000","strokeWidth":3.3},"encoding":{"x":{"field":"a","type":"quantitative"},"x2":{"field":"b"},"y":{"field":"c","type":"quantitative"},"y2":{"field":"d"}}},
{"data":{"values":[{"x":56.2,"y":137},{"x":236,"y":43}]},"mark":{"type":"circle","color":"#000","size":130,"opacity":1},"encoding":{"x":{"field":"x","type":"quantitative"},"y":{"field":"y","type":"quantitative"}}},
{"data":{"values":[{"x":82,"y":134},{"x":262,"y":46}]},"mark":{"type":"point","shape":"triangle-up","filled":true,"color":"#000","size":256,"opacity":1},"encoding":{"x":{"field":"x","type":"quantitative"},"y":{"field":"y","type":"quantitative"}}},
{"data":{"values":[{"x":246,"y":50.5}]},"mark":{"type":"point","shape":"circle","filled":false,"color":"#000","size":324,"strokeWidth":3.5,"opacity":1},"encoding":{"x":{"field":"x","type":"quantitative"},"y":{"field":"y","type":"quantitative"}}},
{"data":{"values":[{"x":315,"y":88}]},"mark":{"type":"circle","color":"#fff","size":170,"opacity":1},"encoding":{"x":{"field":"x","type":"quantitative"},"y":{"field":"y","type":"quantitative"}}}
]},
{"width":58,"height":607,"view":{"stroke":"#666"},
"layer":[
{"data":{"name":"bands"},"mark":{"type":"rect","strokeWidth":0.8},"encoding":{"y":{"field":"lo","type":"quantitative","scale":{"domain":[-442,731],"nice":false,"zero":false},"axis":{"values":[-400,-200,0,200,400,600],"title":null,"orient":"right","grid":false,"domain":false,"ticks":false,"labelFontSize":19,"labelColor":"#111","labelPadding":7}},"y2":{"field":"hi"},"color":{"field":"v","type":"quantitative","legend":null,"scale":{"domain":[-442,-400,-370,-300,-200,-115,-100,-50,0,50,100,150,200,250,290,320,350,400,450,500,540,600,650,690,731],"range":["#241840","#2a1a50","#2e1d78","#25307f","#1c4c90","#1078b8","#1a98e0","#1a90c0","#1a88a0","#1a9078","#1aa050","#20a830","#60b820","#b8d800","#f0f000","#f4d400","#f0b000","#e88010","#e04a20","#d82a24","#d80f24","#d80024","#b00020","#800020","#500018"]}},"stroke":{"field":"v","type":"quantitative","legend":null,"scale":{"domain":[-442,-400,-370,-300,-200,-115,-100,-50,0,50,100,150,200,250,290,320,350,400,450,500,540,600,650,690,731],"range":["#241840","#2a1a50","#2e1d78","#25307f","#1c4c90","#1078b8","#1a98e0","#1a90c0","#1a88a0","#1a9078","#1aa050","#20a830","#60b820","#b8d800","#f0f000","#f4d400","#f0b000","#e88010","#e04a20","#d82a24","#d80f24","#d80024","#b00020","#800020","#500018"]}}}},
{"data":{"values":[{"t":-400,"a":0,"b":0.12},{"t":-400,"a":0.88,"b":1},{"t":-200,"a":0,"b":0.12},{"t":-200,"a":0.88,"b":1},{"t":0,"a":0,"b":0.12},{"t":0,"a":0.88,"b":1},{"t":200,"a":0,"b":0.12},{"t":200,"a":0.88,"b":1},{"t":400,"a":0,"b":0.12},{"t":400,"a":0.88,"b":1},{"t":600,"a":0,"b":0.12},{"t":600,"a":0.88,"b":1}]},"mark":{"type":"rule","color":"#222","strokeWidth":1},"encoding":{"x":{"field":"a","type":"quantitative","scale":{"domain":[0,1],"nice":false},"axis":null},"x2":{"field":"b"},"y":{"field":"t","type":"quantitative"}}}
]}
]}
